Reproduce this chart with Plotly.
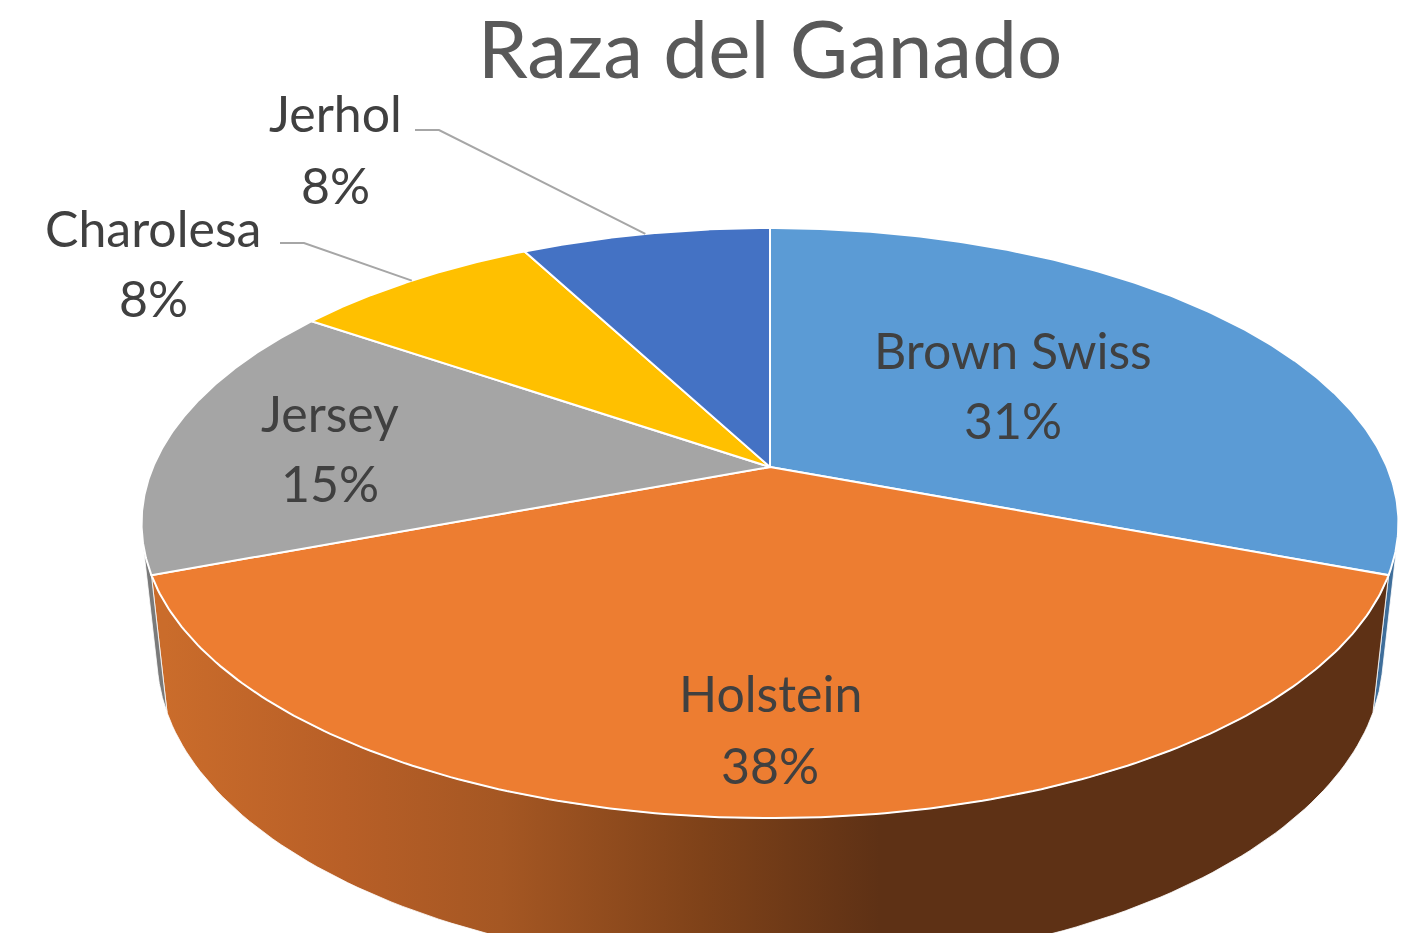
import numpy as np
import plotly.graph_objects as go

# ---------------- data ----------------
razas = ["Brown Swiss", "Holstein", "Jersey", "Charolesa", "Jerhol"]
cabezas = [4, 5, 2, 1, 1]
titulo = "Raza del Ganado"

# ---------------- styles ----------------
colores_top = ["#5B9BD5", "#ED7D31", "#A5A5A5", "#FFC000", "#4472C4"]
colores_lado = ["#3F6E9A", None, "#7A7A7A", "#B38800", "#2F5090"]
gradiente_holstein = [[0.0, "#CA6C2B"], [0.25, "#B85F27"], [0.47, "#A55723"],
                      [0.75, "#7F4219"], [1.0, "#5E3115"]]
W, H = 1419, 933
CX, CY = 770.0, 467.0          # screen position of the pie apex
A = 617.0                      # horizontal scale (F/D)
PHI = np.arcsin(284.4 / A)     # camera elevation
Cp, Sp = np.cos(PHI), np.sin(PHI)
D = Cp / 0.19                  # camera distance (radius units)
F = A * D
T = 0.245                      # pie thickness (radius units)
VIS = np.degrees(np.arccos(1.0 / (D * Cp)))  # half-angle of visible wall


def proj(theta_deg, r=1.0, h=0.0):
    th = np.radians(np.asarray(theta_deg, dtype=float))
    x = r * np.cos(th)
    z = r * np.sin(th)
    depth = D + z * Cp - h * Sp
    sx = CX + F * x / depth
    sy = CY - F * (h * Cp + z * Sp) / depth
    return sx, sy


total = float(sum(cabezas))
fracs = [v / total for v in cabezas]
porc = [f"{round(f * 100):d}%" for f in fracs]

# slice angles (start at 12 o'clock, clockwise)
angs = []
a = 90.0
for f in fracs:
    a2 = a - f * 360.0
    angs.append((a, a2))
    a = a2

fig = go.Figure()

# ---- side walls (front, visible part) ----
lo_vis, hi_vis = -90.0 - VIS, -90.0 + VIS
for i, (a0, a1) in enumerate(angs):
    hi, lo = a0, a1
    for shift in (0.0, -360.0, 360.0):
        h2, l2 = hi + shift, lo + shift
        s_hi, s_lo = min(h2, hi_vis), max(l2, lo_vis)
        if s_hi > s_lo:
            th = np.linspace(s_lo, s_hi, 120)
            xt, yt = proj(th, 1.0, 0.0)
            xb, yb = proj(th[::-1], 1.0, -T)
            xs = np.concatenate([xt, xb, xt[:1]])
            ys = np.concatenate([yt, yb, yt[:1]])
            kw = {}
            if colores_lado[i] is None:
                kw["fillgradient"] = dict(type="horizontal", colorscale=gradiente_holstein,
                                          start=165, stop=880)
            else:
                kw["fillcolor"] = colores_lado[i]
            fig.add_trace(go.Scatter(x=xs, y=ys, mode="lines", fill="toself",
                                     line=dict(color="rgba(255,255,255,0.8)", width=1),
                                     hoverinfo="skip", showlegend=False, **kw))

# ---- top faces ----
for i, (a0, a1) in enumerate(angs):
    th = np.linspace(a0, a1, 200)
    xa, ya = proj(th)
    xs = np.concatenate([[CX], xa, [CX]])
    ys = np.concatenate([[CY], ya, [CY]])
    fig.add_trace(go.Scatter(x=xs, y=ys, mode="lines", fill="toself",
                             fillcolor=colores_top[i],
                             line=dict(color="white", width=2),
                             hoverinfo="skip", showlegend=False))

# ---- labels ----
lab_font = dict(family="Lato", size=50, color="#404040")
label_pos = {
    "Brown Swiss": (1013, 350, 420),
    "Holstein": (770, 693, 765),
    "Jersey": (330, 413, 483),
    "Charolesa": (153, 228, 298),
    "Jerhol": (335, 113, 185),
}
for i, nm in enumerate(razas):
    lx, ly1, ly2 = label_pos[nm]
    fig.add_annotation(x=lx, y=ly1, text=nm, showarrow=False, font=lab_font,
                       xanchor="center", yanchor="middle")
    fig.add_annotation(x=lx, y=ly2, text=porc[i], showarrow=False, font=lab_font,
                       xanchor="center", yanchor="middle")

# ---- leader lines for outside labels ----
leader_start = {"Jerhol": (415, 130), "Charolesa": (280, 243)}
for i, nm in enumerate(razas):
    if nm in leader_start:
        mid = 0.5 * (angs[i][0] + angs[i][1])
        ex, ey = proj(mid)
        sx0, sy0 = leader_start[nm]
        fig.add_trace(go.Scatter(x=[sx0, sx0 + 24, float(ex)], y=[sy0, sy0, float(ey)],
                                 mode="lines", line=dict(color="#A6A6A6", width=2),
                                 hoverinfo="skip", showlegend=False))

fig.update_layout(
    width=W, height=H,
    margin=dict(l=0, r=0, t=0, b=0),
    paper_bgcolor="white", plot_bgcolor="white",
    title=dict(text=titulo, x=CX / W, xanchor="center", y=1 - 50 / H, yanchor="middle",
               yref="container", font=dict(family="Lato", size=80, color="#595959")),
    xaxis=dict(range=[0, W], visible=False, fixedrange=True),
    yaxis=dict(range=[H, 0], visible=False, fixedrange=True),
    showlegend=False,
)

fig.write_html("out.html", config={"displayModeBar": False},
               post_script="document.body.style.margin='0';")
